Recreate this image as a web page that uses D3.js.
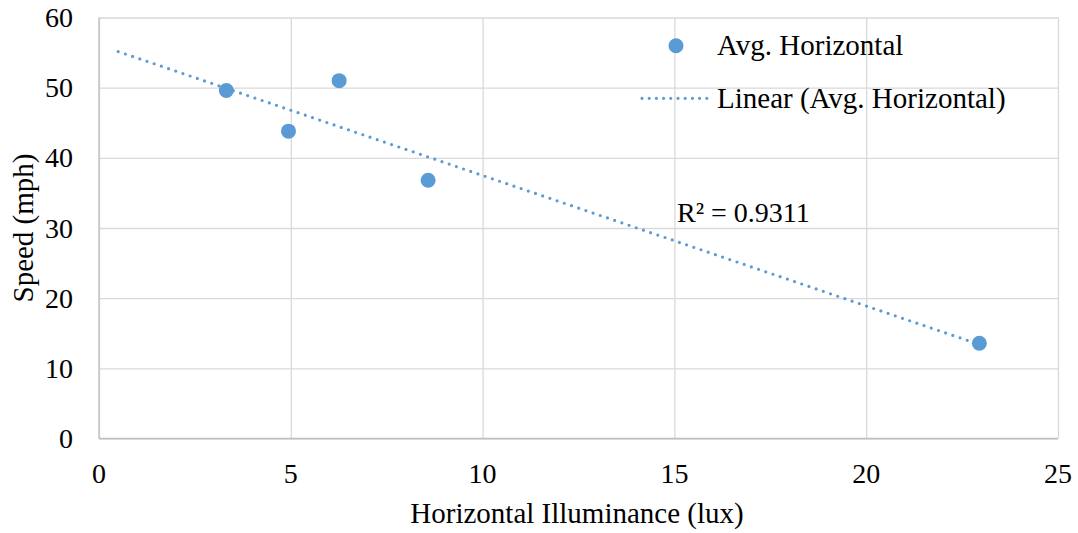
<!DOCTYPE html>
<html>
<head>
<meta charset="utf-8">
<script src="https://cdn.jsdelivr.net/npm/d3@7"></script>
<style>
  body { margin: 0; background: #fff; }
  text { font-family: "Liberation Serif", "Times New Roman", serif; fill: #000; }
</style>
</head>
<body>
<script>
// data
var illuminance = [3.32, 4.94, 6.26, 8.58, 22.95];
var speed = [49.6, 43.8, 51.0, 36.8, 13.57];
var xTicks = [0, 5, 10, 15, 20, 25];
var yTicks = [0, 10, 20, 30, 40, 50, 60];
var trendStart = 0.5;
var seriesName = "Avg. Horizontal";
var rSquared = "0.9311";

var w = 1078, h = 533;
var plotLeft = 99, plotRight = 1058, plotTop = 17.5, plotBottom = 438.5;
var blue = "#5B9BD5";

var svg = d3.select("body").append("svg")
  .attr("width", w)
  .attr("height", h);

var xScale = d3.scaleLinear().domain([0, 25]).range([plotLeft, plotRight]);
var yScale = d3.scaleLinear().domain([0, 60]).range([plotBottom, plotTop]);

// gridlines
svg.append("g")
  .attr("transform", "translate(0," + plotBottom + ")")
  .call(d3.axisBottom(xScale).tickValues(xTicks).tickSize(-(plotBottom - plotTop)).tickFormat(""))
  .call(function(g) { g.select(".domain").remove(); })
  .selectAll("line").attr("stroke", "#d9d9d9").attr("stroke-width", 1.3);

svg.append("g")
  .attr("transform", "translate(" + plotLeft + ",0)")
  .call(d3.axisLeft(yScale).tickValues(yTicks).tickSize(-(plotRight - plotLeft)).tickFormat(""))
  .call(function(g) { g.select(".domain").remove(); })
  .selectAll("line").attr("stroke", "#d9d9d9").attr("stroke-width", 1.3);

// axis lines
svg.append("line")
  .attr("x1", plotLeft).attr("x2", plotLeft).attr("y1", plotTop).attr("y2", plotBottom)
  .attr("stroke", "#bfbfbf").attr("stroke-width", 1.3);
svg.append("line")
  .attr("x1", plotLeft).attr("x2", plotRight).attr("y1", plotBottom).attr("y2", plotBottom)
  .attr("stroke", "#bfbfbf").attr("stroke-width", 1.3);

// tick labels
svg.selectAll(".ylab")
  .data(yTicks)
  .enter()
  .append("text")
  .attr("class", "ylab")
  .attr("x", plotLeft - 26)
  .attr("y", function(d) { return yScale(d); })
  .attr("dy", "0.34em")
  .attr("text-anchor", "end")
  .attr("font-size", "28px")
  .text(function(d) { return d; });

svg.selectAll(".xlab")
  .data(xTicks)
  .enter()
  .append("text")
  .attr("class", "xlab")
  .attr("x", function(d) { return xScale(d); })
  .attr("y", 483)
  .attr("text-anchor", "middle")
  .attr("font-size", "28px")
  .text(function(d) { return d; });

// axis titles
svg.append("text")
  .attr("x", 577)
  .attr("y", 523)
  .attr("text-anchor", "middle")
  .attr("font-size", "29px")
  .text("Horizontal Illuminance (lux)");

svg.append("text")
  .attr("transform", "translate(33," + ((plotTop + plotBottom) / 2) + ") rotate(-90)")
  .attr("text-anchor", "middle")
  .attr("font-size", "29px")
  .text("Speed (mph)");

// linear trendline (least squares)
var n = illuminance.length;
var mx = d3.mean(illuminance), my = d3.mean(speed);
var sxy = 0, sxx = 0;
for (var i = 0; i < n; i++) {
  sxy += (illuminance[i] - mx) * (speed[i] - my);
  sxx += (illuminance[i] - mx) * (illuminance[i] - mx);
}
var slope = sxy / sxx;
var intercept = my - slope * mx;
var trendEnd = d3.max(illuminance);

svg.append("line")
  .attr("x1", xScale(trendStart))
  .attr("y1", yScale(intercept + slope * trendStart))
  .attr("x2", xScale(trendEnd))
  .attr("y2", yScale(intercept + slope * trendEnd))
  .attr("stroke", blue)
  .attr("stroke-width", 3.2)
  .attr("stroke-linecap", "round")
  .attr("stroke-dasharray", "0 7.6");

// points
svg.selectAll("circle.pt")
  .data(illuminance)
  .enter()
  .append("circle")
  .attr("class", "pt")
  .attr("cx", function(d) { return xScale(d); })
  .attr("cy", function(d, i) { return yScale(speed[i]); })
  .attr("r", 7.5)
  .attr("fill", blue);

// R squared label
svg.append("text")
  .attr("x", 677)
  .attr("y", 222)
  .attr("font-size", "28px")
  .text("R² = " + rSquared);

// legend
svg.append("circle")
  .attr("cx", 676).attr("cy", 45.7).attr("r", 7.5)
  .attr("fill", blue);
svg.append("text")
  .attr("x", 717).attr("y", 55)
  .attr("font-size", "29px")
  .text(seriesName);

svg.append("line")
  .attr("x1", 642).attr("x2", 707).attr("y1", 98.3).attr("y2", 98.3)
  .attr("stroke", blue)
  .attr("stroke-width", 3.2)
  .attr("stroke-linecap", "round")
  .attr("stroke-dasharray", "0 7.2");
svg.append("text")
  .attr("x", 717).attr("y", 108)
  .attr("font-size", "29px")
  .text("Linear (" + seriesName + ")");
</script>
</body>
</html>
